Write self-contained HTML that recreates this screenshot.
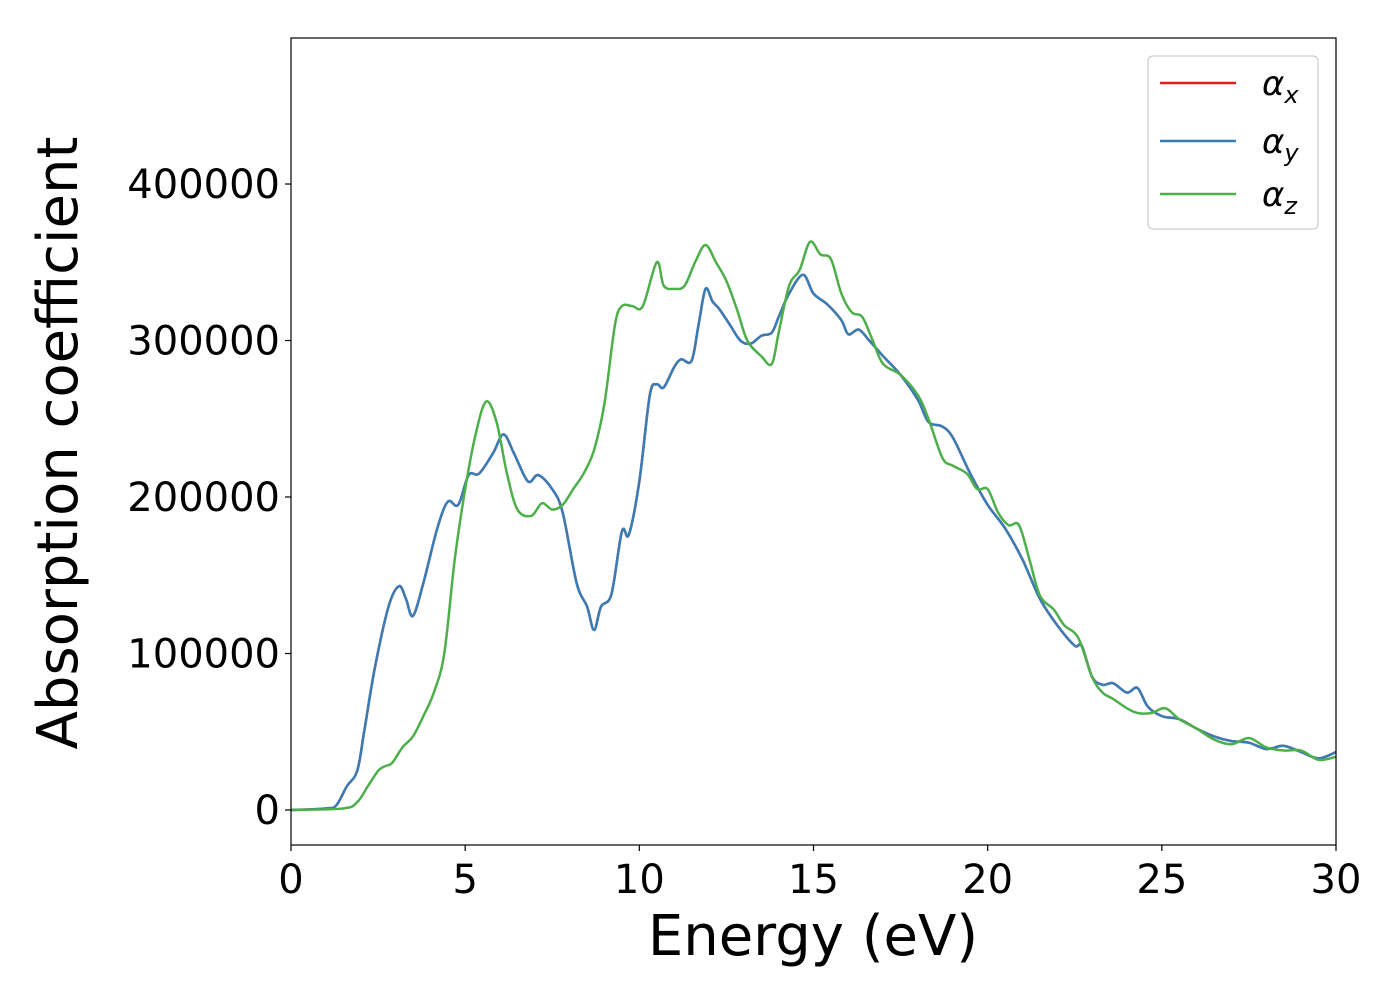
<!DOCTYPE html>
<html><head><meta charset="utf-8"><style>
body{margin:0;background:#fff}
svg{font-family:"DejaVu Sans","Liberation Sans",sans-serif}
</style></head><body>
<svg id="chart" width="1400" height="1000">
<rect width="1400" height="1000" fill="#fff"/>
<g id="plot"></g>
</svg>
<script>
const xTicks=[0,5,10,15,20,25,30];
const yTicks=[0,100000,200000,300000,400000];
const energyXY=[0,1.0,1.3,1.6,1.9,2.1,2.4,2.8,3.1,3.3,3.5,3.8,4.2,4.5,4.8,5.1,5.4,5.8,6.1,6.4,6.8,7.1,7.5,7.8,8.2,8.5,8.7,8.9,9.2,9.5,9.7,10.0,10.3,10.5,10.7,11.0,11.2,11.5,11.7,11.9,12.1,12.3,12.6,12.9,13.2,13.5,13.8,14.0,14.3,14.7,15.0,15.4,15.8,16.0,16.3,16.6,17.0,17.5,18.0,18.3,18.7,19.0,19.5,20.0,20.5,21.0,21.5,22.0,22.5,22.7,23.0,23.3,23.6,24.0,24.3,24.6,25.0,25.5,26.0,26.5,27.0,27.5,28.0,28.5,29.0,29.5,30.0];
const alphaX=[0,1000,3000,15000,25000,50000,90000,130000,143000,135000,124000,145000,180000,197000,195000,214000,215000,228000,240000,228000,210000,214000,205000,190000,145000,130000,115000,130000,138000,178000,176000,210000,265000,272000,270000,283000,288000,287000,310000,333000,325000,320000,310000,300000,298000,303000,305000,315000,330000,342000,330000,323000,313000,304000,307000,300000,290000,278000,262000,248000,245000,238000,215000,195000,180000,160000,135000,118000,105000,105000,85000,80000,81000,75000,78000,66000,60000,58000,52000,47000,44000,43000,39000,41000,37000,33000,37000];
const alphaY=alphaX.slice();
const energyZ=[0,1.5,1.9,2.2,2.5,2.7,2.9,3.2,3.5,3.8,4.1,4.4,4.7,5.0,5.3,5.6,5.9,6.2,6.5,6.9,7.2,7.5,7.8,8.1,8.4,8.7,9.0,9.3,9.5,9.8,10.1,10.5,10.7,11.0,11.3,11.6,11.9,12.2,12.5,12.8,13.1,13.5,13.8,14.0,14.3,14.6,14.9,15.2,15.5,15.8,16.1,16.4,16.7,17.0,17.5,18.0,18.3,18.7,19.0,19.4,19.7,20.0,20.3,20.6,20.9,21.2,21.5,21.9,22.2,22.6,23.0,23.3,23.6,24.0,24.3,24.7,25.1,25.5,26.0,26.5,27.0,27.5,28.0,28.5,29.0,29.5,30.0];
const alphaZ=[0,1000,5000,15000,25000,28000,30000,40000,47000,60000,75000,100000,160000,205000,240000,261000,248000,215000,192000,188000,196000,192000,195000,205000,215000,230000,260000,310000,322000,322000,322000,350000,335000,333000,335000,350000,361000,350000,338000,320000,300000,290000,285000,305000,335000,345000,363000,355000,352000,330000,318000,315000,300000,285000,278000,265000,250000,225000,220000,215000,205000,205000,190000,182000,182000,160000,137000,128000,118000,110000,85000,75000,71000,65000,62000,62000,65000,58000,52000,45000,42000,46000,40000,38000,38000,32000,34000];

const L=291,R=1336,T=38,B=845;
const xMin=0,xMax=30,yMin=-22364,yMax=493300;
const sx=v=>L+(v-xMin)/(xMax-xMin)*(R-L);
const sy=v=>B-(v-yMin)/(yMax-yMin)*(B-T);
const NS='http://www.w3.org/2000/svg';
const g=document.getElementById('plot');
function mk(t,a,p){const e=document.createElementNS(NS,t);for(const k in a)e.setAttribute(k,a[k]);(p||g).appendChild(e);return e;}
function smooth(xs,ys){
  const P=xs.map((x,i)=>[sx(x),sy(ys[i])]);
  let d='M'+P[0][0]+','+P[0][1];
  for(let i=0;i<P.length-1;i++){
    const p0=P[i-1]||P[i],p1=P[i],p2=P[i+1],p3=P[i+2]||p2;
    const c1=[p1[0]+(p2[0]-p0[0])/6,p1[1]+(p2[1]-p0[1])/6];
    const c2=[p2[0]-(p3[0]-p1[0])/6,p2[1]-(p3[1]-p1[1])/6];
    d+=`C${c1[0]},${c1[1]} ${c2[0]},${c2[1]} ${p2[0]},${p2[1]}`;
  }
  return d;
}
const series=[['alpha-x-line',energyXY,alphaX,'#e41a1c'],['alpha-y-line',energyXY,alphaY,'#377eb8'],['alpha-z-line',energyZ,alphaZ,'#4daf4a']];
const clip=mk('clipPath',{id:'c'});
mk('rect',{x:L,y:T,width:R-L,height:B-T},clip);
series.forEach(s=>{
  const p=mk('path',{d:smooth(s[1],s[2]),fill:'none',stroke:s[3],'stroke-width':2.5,'clip-path':'url(#c)'});
  
  
});
const frame=mk('rect',{x:L,y:T,width:R-L,height:B-T,fill:'none',stroke:'#000','stroke-width':1.2});


xTicks.forEach(v=>{
  mk('line',{x1:sx(v),x2:sx(v),y1:B,y2:B+6,stroke:'#000','stroke-width':1.2});
  const t=mk('text',{x:sx(v),y:B+48,'text-anchor':'middle','font-size':40});
  t.textContent=v;
  
  
});
yTicks.forEach(v=>{
  mk('line',{x1:L-6,x2:L,y1:sy(v),y2:sy(v),stroke:'#000','stroke-width':1.2});
  const t=mk('text',{x:L-11,y:sy(v)+14,'text-anchor':'end','font-size':40});
  t.textContent=v;
  
  
});
const xt=mk('text',{x:813,y:955,'text-anchor':'middle','font-size':56});
xt.textContent='Energy (eV)';


const yt=mk('text',{x:0,y:0,'text-anchor':'middle','font-size':56,transform:'translate(77,443) rotate(-90)'});
yt.textContent='Absorption coefficient';


const lg=mk('g',{});


mk('rect',{x:1148,y:56,width:170,height:173,rx:5,fill:'#fff',stroke:'#ccc','stroke-width':1.2},lg);
const labs=['x','y','z'];
[83,141,194].forEach((y,i)=>{
  const e=mk('g',{},lg);
  
  
  mk('line',{x1:1160,x2:1236,y1:y,y2:y,stroke:series[i][3],'stroke-width':2.5},e);
  const t=mk('text',{x:1262,y:y+12,'font-size':34,'font-style':'italic'},e);
  t.textContent='α';
  const s=mk('tspan',{'font-size':24,dy:8},t);
  s.textContent=labs[i];
});
</script>
</body></html>
